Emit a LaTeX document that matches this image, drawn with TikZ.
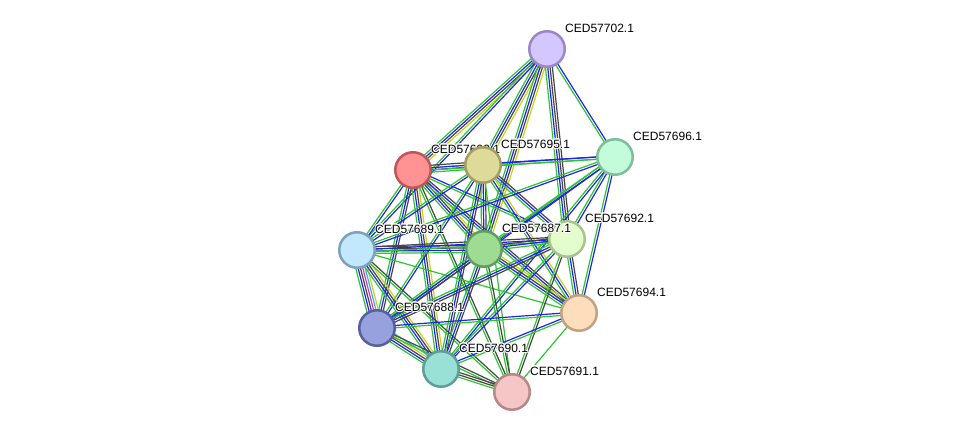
\documentclass[tikz,border=0pt]{standalone}
\usepackage{fontspec}
\newfontfamily\lblfont{Liberation Sans}
\usepackage{contour}
\contourlength{0.8pt}
\usetikzlibrary{calc, backgrounds}

\definecolor{nbh}{HTML}{2EC62E}
\definecolor{cooc}{HTML}{2222F0}
\definecolor{coex}{HTML}{454545}
\definecolor{txtm}{HTML}{C4D41A}
\definecolor{dbase}{HTML}{30B8D8}
\definecolor{expt}{HTML}{D830C8}

\definecolor{f702}{HTML}{D4C6FE}\definecolor{d702}{HTML}{9B86C9}
\definecolor{f96}{HTML}{C2FCDA}\definecolor{d96}{HTML}{7EBE98}
\definecolor{f93}{HTML}{FF9393}\definecolor{d93}{HTML}{C05656}
\definecolor{f95}{HTML}{DDDA9A}\definecolor{d95}{HTML}{A09E62}
\definecolor{f92}{HTML}{E3FDCC}\definecolor{d92}{HTML}{A9C38F}
\definecolor{f89}{HTML}{C2E8FE}\definecolor{d89}{HTML}{7DA2BA}
\definecolor{f87}{HTML}{9EDC94}\definecolor{d87}{HTML}{5F9E5F}
\definecolor{f94}{HTML}{FEDDBD}\definecolor{d94}{HTML}{BEA283}
\definecolor{f88}{HTML}{97A1DC}\definecolor{d88}{HTML}{56609C}
\definecolor{f90}{HTML}{99E0D6}\definecolor{d90}{HTML}{5E9E98}
\definecolor{f91}{HTML}{F6C6C6}\definecolor{d91}{HTML}{B88888}

% one line per evidence channel, side by side
\newcommand{\evidence}[3]{%
  \xdef\nev{0}%
  \foreach \c in {#3}{\xdef\nev{\the\numexpr\nev+1\relax}}%
  \foreach \c [count=\i] in {#3}{%
    \pgfmathsetmacro\off{(\i-(\nev+1)/2)*2.3}%
    \draw[lnk, draw=\c] ($(#1)!\off pt!90:(#2)$) -- ($(#2)!\off pt!-90:(#1)$);}}
\newcommand{\halo}[1]{\contour{white}{#1}}

\begin{document}
\begin{tikzpicture}[x=1pt, y=-1pt]
    \tikzset{
        prot/.style={circle, minimum size=35.5pt, inner sep=0pt, line width=2.5pt,
            fill=f#1, draw=d#1},
        lbl/.style={font=\lblfont\fontsize{12}{14}\selectfont, inner sep=0pt,
            anchor=base west, label distance=0pt, xshift=4.6pt, yshift=3.3pt},
        lnk/.style={line width=1.2pt},
    }
    \useasboundingbox (0,0) rectangle (976,438);

    \node[prot=702, label={[lbl]45:\halo{CED57702.1}}] (p702) at (547,49) {};
    \node[prot=96, label={[lbl]45:\halo{CED57696.1}}] (p96) at (615,157) {};
    \node[prot=93, label={[lbl]45:\halo{CED57693.1}}] (p93) at (413,170) {};
    \node[prot=95, label={[lbl]45:\halo{CED57695.1}}] (p95) at (483,165) {};
    \node[prot=92, label={[lbl]45:\halo{CED57692.1}}] (p92) at (567,239) {};
    \node[prot=89, label={[lbl]45:\halo{CED57689.1}}] (p89) at (357,250) {};
    \node[prot=87, label={[lbl]45:\halo{CED57687.1}}] (p87) at (484,249) {};
    \node[prot=94, label={[lbl]45:\halo{CED57694.1}}] (p94) at (579,313) {};
    \node[prot=88, label={[lbl]45:\halo{CED57688.1}}] (p88) at (377,328) {};
    \node[prot=90, label={[lbl]45:\halo{CED57690.1}}] (p90) at (441,369) {};
    \node[prot=91, label={[lbl]45:\halo{CED57691.1}}] (p91) at (512,392) {};

    \begin{scope}[on background layer]
        \evidence{p702}{p93}{nbh,cooc,coex,txtm}
        \evidence{p702}{p95}{nbh,cooc,coex,txtm}
        \evidence{p702}{p87}{nbh,cooc,coex,txtm}
        \evidence{p702}{p89}{nbh,cooc}
        \evidence{p702}{p92}{nbh,cooc,coex,coex}
        \evidence{p702}{p96}{nbh,cooc}
        \evidence{p93}{p95}{nbh,cooc,txtm,coex}
        \evidence{p93}{p96}{nbh,cooc}
        \evidence{p93}{p89}{nbh,cooc}
        \evidence{p93}{p87}{nbh,cooc,coex,txtm}
        \evidence{p93}{p92}{nbh,cooc}
        \evidence{p93}{p88}{nbh,cooc,coex}
        \evidence{p93}{p90}{nbh,cooc,coex,txtm}
        \evidence{p93}{p94}{nbh,cooc,coex}
        \evidence{p93}{p91}{nbh,coex}
        \evidence{p95}{p96}{nbh,cooc}
        \evidence{p95}{p89}{nbh,cooc}
        \evidence{p95}{p87}{nbh,cooc,coex}
        \evidence{p95}{p92}{nbh,cooc,coex}
        \evidence{p95}{p88}{nbh,cooc}
        \evidence{p95}{p90}{nbh,cooc,coex}
        \evidence{p95}{p94}{nbh,cooc,txtm}
        \evidence{p95}{p91}{nbh}
        \evidence{p96}{p89}{nbh,cooc}
        \evidence{p96}{p87}{nbh,cooc}
        \evidence{p96}{p92}{nbh,cooc}
        \evidence{p96}{p88}{nbh,cooc}
        \evidence{p96}{p90}{nbh,cooc}
        \evidence{p96}{p94}{nbh,cooc}
        \evidence{p89}{p87}{nbh,cooc,coex,coex}
        \evidence{p89}{p92}{nbh,cooc,coex}
        \evidence{p89}{p88}{nbh,cooc,coex,expt,dbase,txtm}
        \evidence{p89}{p90}{nbh,cooc,coex,txtm}
        \evidence{p89}{p94}{nbh}
        \evidence{p89}{p91}{nbh,coex}
        \evidence{p87}{p92}{nbh,cooc,coex}
        \evidence{p87}{p88}{nbh,cooc,coex}
        \evidence{p87}{p90}{nbh,cooc,coex}
        \evidence{p87}{p94}{nbh,cooc,coex,txtm}
        \evidence{p87}{p91}{nbh,coex}
        \evidence{p92}{p88}{nbh,cooc,coex}
        \evidence{p92}{p90}{nbh,cooc}
        \evidence{p92}{p94}{nbh,cooc,coex}
        \evidence{p92}{p91}{nbh,coex}
        \evidence{p88}{p90}{nbh,cooc,coex,txtm,dbase}
        \evidence{p88}{p94}{nbh,cooc}
        \evidence{p88}{p91}{nbh,coex}
        \evidence{p90}{p94}{nbh,cooc}
        \evidence{p90}{p91}{nbh,coex,coex}
        \evidence{p94}{p91}{nbh}
    \end{scope}
\end{tikzpicture}
\end{document}
